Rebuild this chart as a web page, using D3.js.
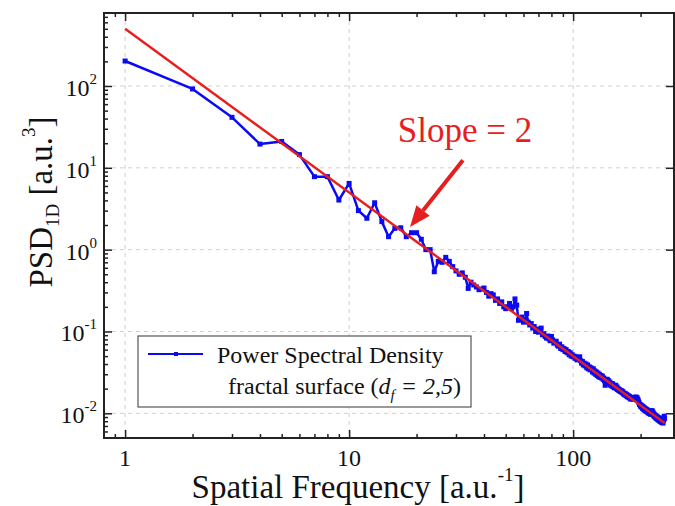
<!DOCTYPE html>
<html>
<head>
<meta charset="utf-8">
<script src="https://cdn.jsdelivr.net/npm/d3@7"></script>
<style>
  body { margin: 0; background: #fff; }
  svg { display: block; font-family: "Liberation Serif", "Times New Roman", serif; }
  text { white-space: pre; }
</style>
</head>
<body>
<svg id="chart" width="675" height="506"></svg>
<script>
// 1D power spectral density of a fractal surface, f = 1 .. 256
const psd = [
  202, 92, 41.4, 19.5, 21, 14.5, 7.8, 7.8, 4.04, 6.45,
  3.0, 2.42, 3.74, 2.2, 1.44, 1.82, 1.85, 1.44, 1.61, 1.61,
  1.34, 1.0, 1.0, 0.537, 0.72, 0.70, 0.805, 0.72, 0.62, 0.55,
  0.50, 0.52, 0.46, 0.336, 0.40, 0.37, 0.35, 0.324, 0.33, 0.34,
  0.30, 0.27, 0.29, 0.28, 0.24, 0.25, 0.22, 0.23, 0.20, 0.19,
  0.20, 0.22, 0.19, 0.20, 0.25, 0.21, 0.137, 0.14, 0.15, 0.13,
  0.14, 0.166, 0.13, 0.12, 0.125, 0.11, 0.115, 0.10, 0.107, 0.098,
  0.104, 0.11, 0.091, 0.094, 0.087, 0.083, 0.088, 0.081, 0.077, 0.087,
  0.079, 0.072, 0.075, 0.076, 0.068, 0.066, 0.070, 0.062, 0.065, 0.060,
  0.062, 0.057, 0.060, 0.055, 0.057, 0.052, 0.055, 0.050, 0.052, 0.049,
  0.050, 0.047, 0.049, 0.045, 0.047, 0.048, 0.049, 0.044, 0.041, 0.043,
  0.039, 0.041, 0.038, 0.040, 0.036, 0.039, 0.035, 0.037, 0.034, 0.036,
  0.035, 0.032, 0.035, 0.031, 0.033, 0.030, 0.032, 0.029, 0.031, 0.028,
  0.030, 0.0275, 0.029, 0.027, 0.0285, 0.026, 0.027, 0.025, 0.022, 0.026,
  0.025, 0.026, 0.0235, 0.025, 0.023, 0.024, 0.022, 0.023, 0.0215, 0.023,
  0.021, 0.022, 0.0205, 0.021, 0.022, 0.020, 0.021, 0.0195, 0.020, 0.019,
  0.0195, 0.0185, 0.019, 0.0182, 0.0188, 0.0178, 0.0183, 0.0172, 0.0176, 0.0168,
  0.0174, 0.0166, 0.0170, 0.0160, 0.0166, 0.0158, 0.0163, 0.0155, 0.0160, 0.0150,
  0.0155, 0.0150, 0.0152, 0.0150, 0.0153, 0.0150, 0.0155, 0.0150, 0.0157, 0.0152,
  0.0158, 0.0152, 0.0155, 0.0148, 0.0145, 0.0138, 0.0134, 0.0128, 0.0127, 0.0122,
  0.0126, 0.0119, 0.0123, 0.0115, 0.0120, 0.0112, 0.0118, 0.0110, 0.0115, 0.0108,
  0.0113, 0.0106, 0.0111, 0.0104, 0.0109, 0.0102, 0.0107, 0.0100, 0.0105, 0.0099,
  0.0104, 0.0097, 0.0103, 0.0099, 0.0108, 0.0100, 0.0104, 0.0095, 0.0099, 0.0092,
  0.0096, 0.0090, 0.0094, 0.0088, 0.0092, 0.0086, 0.0091, 0.0085, 0.0089, 0.0083,
  0.0088, 0.0082, 0.0086, 0.0080, 0.0085, 0.0079, 0.0083, 0.0078, 0.0084, 0.0077,
  0.0081, 0.0076, 0.0082, 0.0088, 0.0092, 0.0086
];

// fitted power law, slope -2 (end points)
const fitLine = [[1, 500], [256, 0.00763]];

const xMajorTicks = [1, 10, 100];
const xTickLabels = ['1', '10', '100'];
const xMinorTicks = [0.9, 2, 3, 4, 5, 6, 7, 8, 9, 20, 30, 40, 50, 60, 70, 80, 90, 200];
const yMajorTicks = [1e-2, 1e-1, 1e0, 1e1, 1e2];
const yTickExponents = ['-2', '-1', '0', '1', '2'];
const yMinorTicks = [
  0.006, 0.007, 0.008, 0.009,
  0.02, 0.03, 0.04, 0.05, 0.06, 0.07, 0.08, 0.09,
  0.2, 0.3, 0.4, 0.5, 0.6, 0.7, 0.8, 0.9,
  2, 3, 4, 5, 6, 7, 8, 9,
  20, 30, 40, 50, 60, 70, 80, 90,
  200, 300, 400, 500, 600, 700
];

const margin = { top: 13, right: 1, bottom: 68, left: 104 };
const width = 675 - margin.left - margin.right;
const height = 506 - margin.top - margin.bottom;

const blue = '#0a0af5';
const red = '#e61e1e';

const x = d3.scaleLog().domain([0.805, 282]).range([0, width]);
const y = d3.scaleLog().domain([0.00499, 780]).range([height, 0]);

const svg = d3.select('#chart');
svg.append('rect').attr('width', 675).attr('height', 506).attr('fill', '#fff');

const g = svg.append('g').attr('transform', `translate(${margin.left},${margin.top})`);

// dashed grid at decades
g.selectAll('.gx').data(xMajorTicks).enter().append('line')
  .attr('x1', d => x(d)).attr('x2', d => x(d))
  .attr('y1', 0).attr('y2', height)
  .attr('stroke', '#cfcfcf').attr('stroke-dasharray', '4,4');
g.selectAll('.gy').data(yMajorTicks).enter().append('line')
  .attr('y1', d => y(d)).attr('y2', d => y(d))
  .attr('x1', 0).attr('x2', width)
  .attr('stroke', '#cfcfcf').attr('stroke-dasharray', '4,4');

// inward ticks: bottom, top, left (major+minor), right (major only)
function ticks(axis, vals, size) {
  const a = g.append('g').call(axis.tickValues(vals).tickSize(size).tickFormat(''));
  a.select('.domain').remove();
  a.selectAll('line').attr('stroke', '#222').attr('stroke-width', 1.5);
  return a;
}
ticks(d3.axisBottom(x), xMajorTicks, -8).attr('transform', `translate(0,${height})`);
ticks(d3.axisBottom(x), xMinorTicks, -4).attr('transform', `translate(0,${height})`);
ticks(d3.axisTop(x), xMajorTicks, -8);
ticks(d3.axisTop(x), xMinorTicks, -4);
ticks(d3.axisLeft(y), yMajorTicks, -8);
ticks(d3.axisLeft(y), yMinorTicks, -4);
ticks(d3.axisRight(y), yMajorTicks, -8).attr('transform', `translate(${width},0)`);

// frame
g.append('rect').attr('width', width).attr('height', height)
  .attr('fill', 'none').attr('stroke', '#222').attr('stroke-width', 2);

// tick labels
g.selectAll('.xl').data(xMajorTicks).enter().append('text')
  .attr('x', d => x(d)).attr('y', height + 28)
  .attr('text-anchor', 'middle').attr('font-size', 24).attr('fill', '#111')
  .text((d, i) => xTickLabels[i]);

const yl = g.selectAll('.yl').data(yMajorTicks).enter().append('text')
  .attr('x', -7).attr('y', d => y(d) + 10)
  .attr('text-anchor', 'end').attr('font-size', 24).attr('fill', '#111');
yl.append('tspan').text('10');
yl.append('tspan').attr('dy', -12).attr('font-size', 15).text((d, i) => yTickExponents[i]);

// data
const pts = psd.map((v, i) => ({ f: i + 1, v }));
const line = d3.line().x(d => x(d.f)).y(d => y(d.v));

g.append('path').datum(pts).attr('d', line)
  .attr('fill', 'none').attr('stroke', blue).attr('stroke-width', 2.5)
  .attr('stroke-linejoin', 'round');
g.selectAll('.pt').data(pts).enter().append('rect')
  .attr('x', d => x(d.f) - 2.5).attr('y', d => y(d.v) - 2.5)
  .attr('width', 5).attr('height', 5).attr('fill', blue);

g.append('path').datum(fitLine)
  .attr('d', d3.line().x(d => x(d[0])).y(d => y(d[1])))
  .attr('fill', 'none').attr('stroke', red).attr('stroke-width', 2.4);

// annotation
const arrowTail = [32.2, 12.4];
const arrowTip = [18.7, 1.89];
const tx = x(arrowTail[0]), ty = y(arrowTail[1]);
const hx = x(arrowTip[0]), hy = y(arrowTip[1]);
const ang = Math.atan2(hy - ty, hx - tx);
const headLen = 21, headHalf = 8.5;
const bx = hx - headLen * Math.cos(ang), by = hy - headLen * Math.sin(ang);
g.append('line').attr('x1', tx).attr('y1', ty).attr('x2', bx).attr('y2', by)
  .attr('stroke', red).attr('stroke-width', 4);
g.append('path')
  .attr('d', `M${hx},${hy}L${bx + headHalf * Math.sin(ang)},${by - headHalf * Math.cos(ang)}` +
    `L${bx - headHalf * Math.sin(ang)},${by + headHalf * Math.cos(ang)}Z`)
  .attr('fill', red);
g.append('text').attr('x', x(16.5)).attr('y', y(20.8))
  .attr('font-size', 35).attr('fill', red).text('Slope = 2');

// legend
const lg = g.append('g').attr('transform', 'translate(34,323)');
lg.append('rect').attr('width', 333).attr('height', 71)
  .attr('fill', '#fff').attr('stroke', '#555').attr('stroke-width', 1.2);
lg.append('line').attr('x1', 10).attr('x2', 65).attr('y1', 18).attr('y2', 18)
  .attr('stroke', blue).attr('stroke-width', 2.2);
lg.append('rect').attr('x', 36).attr('y', 16).attr('width', 4).attr('height', 4).attr('fill', blue);
lg.append('text').attr('x', 79).attr('y', 27).attr('font-size', 24).attr('fill', '#111')
  .text('Power Spectral Density');
const l2 = lg.append('text').attr('x', 90).attr('y', 58).attr('font-size', 24).attr('fill', '#111');
l2.append('tspan').text('fractal surface (');
l2.append('tspan').attr('font-style', 'italic').text('d');
l2.append('tspan').attr('font-style', 'italic').attr('font-size', 15).attr('dy', 6).text('f');
l2.append('tspan').attr('font-style', 'italic').attr('dy', -6).text(' = 2,5');
l2.append('tspan').text(')');

// axis titles
const xt = svg.append('text').attr('x', 358).attr('y', 498)
  .attr('text-anchor', 'middle').attr('font-size', 33).attr('fill', '#111');
xt.append('tspan').text('Spatial Frequency [a.u.');
xt.append('tspan').attr('font-size', 19).attr('dy', -17).text('-1');
xt.append('tspan').attr('dy', 17).text(']');

const yt = svg.append('text').attr('transform', 'translate(52,202) rotate(-90)')
  .attr('text-anchor', 'middle').attr('font-size', 33).attr('fill', '#111');
yt.append('tspan').text('PSD');
yt.append('tspan').attr('font-size', 19).attr('dy', 7).text('1D');
yt.append('tspan').attr('dy', -7).text(' [a.u.');
yt.append('tspan').attr('font-size', 19).attr('dy', -17).text('3');
yt.append('tspan').attr('dy', 17).text(']');
</script>
</body>
</html>
